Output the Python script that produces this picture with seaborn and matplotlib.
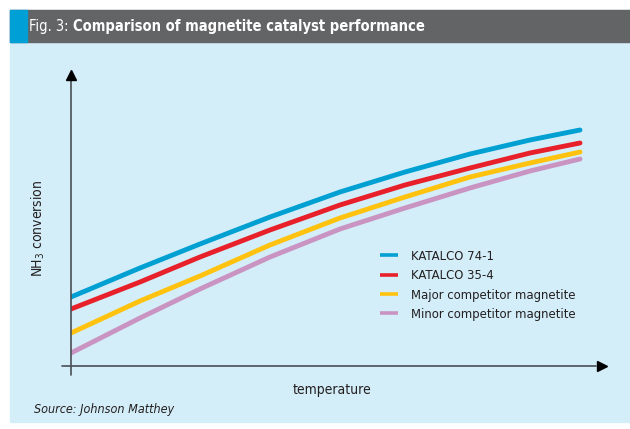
import matplotlib
matplotlib.use("Agg")
import matplotlib.pyplot as plt
import seaborn as sns
import pandas as pd
from matplotlib.patches import Rectangle

# ---- data (arbitrary units) ----
temperature = [0, 69, 129, 199, 269, 334, 399, 459, 509]
katalco_74_1 = [69, 98, 122, 149, 174, 194, 212, 226, 236]
katalco_35_4 = [57, 84, 109, 136, 161, 181, 198, 213, 223]
major_comp = [33, 65, 90, 121, 148, 169, 189, 203, 214]
minor_comp = [13, 48, 77, 109, 137, 158, 178, 195, 207]
series_names = ["KATALCO 74-1", "KATALCO 35-4",
                "Major competitor magnetite", "Minor competitor magnetite"]
colors = ["#00a0d2", "#e8202a", "#ffc20e", "#c994c1"]

rows = []
for name, vals in zip(series_names, [katalco_74_1, katalco_35_4, major_comp, minor_comp]):
    for t, v in zip(temperature, vals):
        rows.append({"temperature": t, "conv": v, "series": name})
df = pd.DataFrame(rows)

sns.set_style("white")
fam = ["DejaVu Sans"]
plt.rcParams["font.family"] = fam
plt.rcParams["font.stretch"] = "condensed"

W, H = 630, 429
fig = plt.figure(figsize=(W / 100, H / 100), dpi=100)
fig.patch.set_facecolor("white")

def fx(px):
    return px / W

def fy(py):
    return 1 - py / H

# background panel
fig.patches.append(Rectangle((fx(10), fy(422)), fx(620), (412) / H,
                             transform=fig.transFigure, color="#d4eef9", zorder=-3))
# title bar
fig.patches.append(Rectangle((fx(10), fy(42)), fx(620), 32 / H,
                             transform=fig.transFigure, color="#636466", zorder=-2))
fig.patches.append(Rectangle((fx(10), fy(42)), fx(17), 32 / H,
                             transform=fig.transFigure, color="#009fd6", zorder=-1))
t1 = fig.text(fx(29), fy(26.5), "Fig. 3: ", color="white", fontsize=10.5,
              va="center", ha="left", fontweight="light")
fig.canvas.draw()
bb = t1.get_window_extent()
fig.text(bb.x1 / W, fy(26.5), "Comparison of magnetite catalyst performance",
         color="white", fontsize=10.5, fontweight="bold", va="center", ha="left")

x0, x1 = 71, 602
y0, y1 = 366, 75
ax = fig.add_axes([fx(x0), fy(y0), (x1 - x0) / W, (y0 - y1) / H])
ax.patch.set_alpha(0)
sns.lineplot(data=df, x="temperature", y="conv", hue="series",
             palette=colors, linewidth=3.5, ax=ax, legend=True)
ax.set_xlim(0, x1 - x0)
ax.set_ylim(0, y0 - y1)
for s in ax.spines.values():
    s.set_visible(False)
ax.set_xticks([])
ax.set_yticks([])
ax.set_xlabel("")
ax.set_ylabel("")

axis_col = "#4a4f55"
# axes lines with arrows
ax.plot([-9, x1 - x0 - 6], [0, 0], color=axis_col, lw=1.2, clip_on=False, zorder=5)
ax.plot([0, 0], [-9, y0 - y1 - 6], color=axis_col, lw=1.2, clip_on=False, zorder=5)
ax.plot([x1 - x0], [0], marker=">", color="black", markersize=7, clip_on=False, zorder=6)
ax.plot([0], [y0 - y1], marker="^", color="black", markersize=7, clip_on=False, zorder=6)

leg = ax.legend(loc="upper left", bbox_to_anchor=((380 - x0) / (x1 - x0), (y0 - 250) / (y0 - y1)),
                frameon=False, fontsize=9.4, handlelength=1.35, handletextpad=1.05,
                labelspacing=0.48, borderaxespad=0, borderpad=0)
for line in leg.get_lines():
    line.set_linewidth(2.6)
    line.set_solid_capstyle("butt")
for txt in leg.get_texts():
    txt.set_color("#231f20")

fig.text(fx(38), fy(228), "NH$_3$ conversion", rotation=90, ha="center", va="center",
         fontsize=10, color="#231f20")
fig.text(fx(332), fy(390), "temperature", ha="center", va="center",
         fontsize=10, color="#231f20")
fig.text(fx(34), fy(409), "Source: Johnson Matthey", ha="left", va="center",
         fontsize=9, style="italic", color="#231f20")

fig.savefig("out.png", dpi=100, facecolor="white")
